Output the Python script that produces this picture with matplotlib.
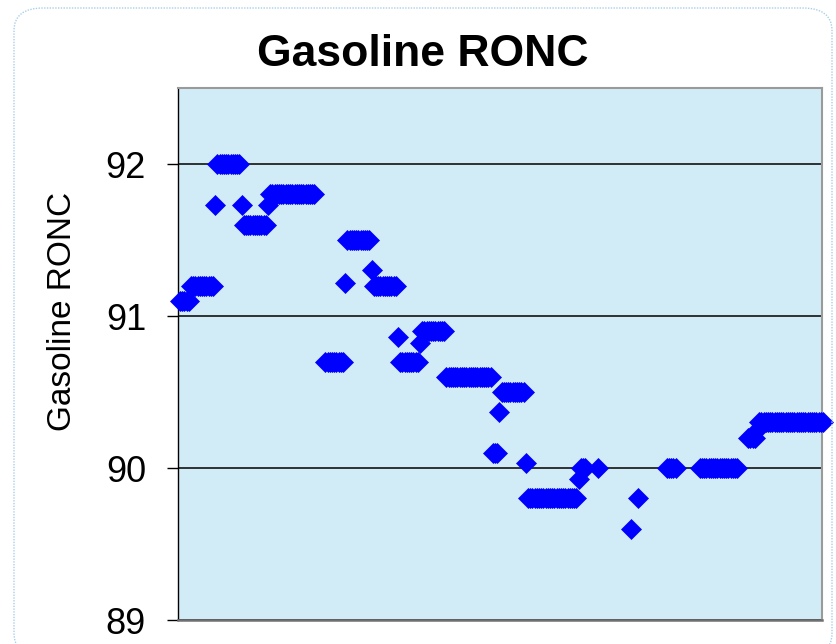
import numpy as np
import matplotlib
matplotlib.use("Agg")
import matplotlib.pyplot as plt
from matplotlib.patches import FancyBboxPatch

plt.rcParams["font.family"] = ["Liberation Sans", "DejaVu Sans"]

# runs of equal readings (value, number of consecutive samples); nan = no data
run_vals = [91.1, 91.2, 91.73, 92.0, 91.73, 91.6, 91.73, 91.8, np.nan, 90.7,
            91.22, 91.5, 91.3, 91.2, 90.86, 90.7, 90.82, 90.9, 90.6, 90.1,
            90.37, 90.5, 90.03, 89.8, 89.93, 90.0, np.nan, 90.0, np.nan, 89.6,
            np.nan, 89.8, np.nan, 90.0, np.nan, 90.0, np.nan, 90.2, 90.25, 90.3]
run_lens = [5, 11, 1, 11, 1, 11, 1, 21, 4, 9,
            1, 11, 1, 11, 1, 9, 1, 11, 21, 3,
            1, 11, 1, 23, 1, 3, 5, 1, 14, 1,
            2, 1, 12, 5, 10, 18, 4, 4, 1, 30]

y = np.repeat(run_vals, run_lens)
x = np.arange(len(y))

yticks = [89, 90, 91, 92]
title = "Gasoline RONC"
ylabel = "Gasoline RONC"

W, H = 837, 644
fig = plt.figure(figsize=(W / 100, H / 100), dpi=100)

# chart area border (dotted, rounded), runs off the bottom of the image
border = FancyBboxPatch((14 / W, -12 / H), 818 / W, (H - 8 + 12) / H,
                        boxstyle="round,pad=0,rounding_size=0.035",
                        transform=fig.transFigure, fill=False,
                        edgecolor="#A9CFEA", linewidth=1.0, linestyle=(0, (1, 1)))
fig.patches.append(border)

ax = fig.add_axes([178 / W, 1 - 620 / H, (822 - 178) / W, (620 - 88) / H])
ax.set_facecolor("#D2ECF7")
ax.plot(x, y, linestyle="none", marker="D", markersize=10, color="#0000FF",
        markeredgewidth=0.5, clip_on=False, zorder=3)

ax.set_xlim(-0.9, 291.5)
ax.set_ylim(89, 92.5)
ax.set_yticks(yticks)
ax.set_yticklabels([str(t) for t in yticks], fontsize=26)
ax.set_xticks([])
ax.yaxis.grid(True, color="black", linewidth=1.1)
ax.set_axisbelow(True)
ax.tick_params(axis="y", direction="out", length=8, width=1, pad=15, color="black")

for side in ["top", "right"]:
    ax.spines[side].set_color("#9A9A9A")
    ax.spines[side].set_linewidth(1.5)
ax.spines["bottom"].set_color("#707070")
ax.spines["bottom"].set_linewidth(1.8)
ax.spines["left"].set_color("black")
ax.spines["left"].set_linewidth(1.0)

fig.text(423 / W, 1 - 55 / H, title, ha="center", va="center",
         fontsize=32, fontweight="bold")
fig.text(63 / W, 1 - 311 / H, ylabel, ha="center", va="center",
         rotation=90, fontsize=24)

fig.savefig("out.png", dpi=100)
